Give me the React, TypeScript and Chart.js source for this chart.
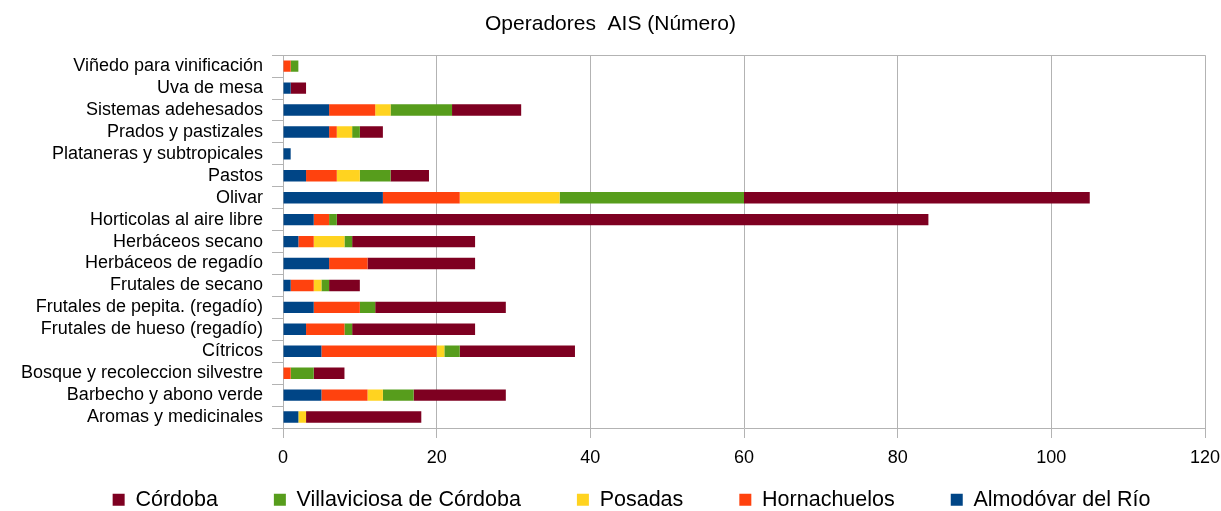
import React, { useEffect, useRef } from 'react';
import { Chart, registerables } from 'chart.js';

Chart.register(...registerables);

const categories = [
  'Viñedo para vinificación',
  'Uva de mesa',
  'Sistemas adehesados',
  'Prados y pastizales',
  'Plataneras y subtropicales',
  'Pastos',
  'Olivar',
  'Horticolas al aire libre',
  'Herbáceos secano',
  'Herbáceos de regadío',
  'Frutales de secano',
  'Frutales de pepita. (regadío)',
  'Frutales de hueso (regadío)',
  'Cítricos',
  'Bosque y recoleccion silvestre',
  'Barbecho y abono verde',
  'Aromas y medicinales',
];

const almodovar = [0, 1, 6, 6, 1, 3, 13, 4, 2, 6, 1, 4, 3, 5, 0, 5, 2];
const hornachuelos = [1, 0, 6, 1, 0, 4, 10, 2, 2, 5, 3, 6, 5, 15, 1, 6, 0];
const posadas = [0, 0, 2, 2, 0, 3, 13, 0, 4, 0, 1, 0, 0, 1, 0, 2, 1];
const villaviciosa = [1, 0, 8, 1, 0, 4, 24, 1, 1, 0, 1, 2, 1, 2, 3, 4, 0];
const cordoba = [0, 2, 9, 3, 0, 5, 45, 77, 16, 14, 4, 17, 16, 15, 4, 12, 15];

const xMin = 0;
const xMax = 120;
const xStep = 20;

const titleText = 'Operadores  AIS (Número)';

const colors = {
  almodovar: '#004586',
  hornachuelos: '#ff420e',
  posadas: '#ffd320',
  villaviciosa: '#579d1c',
  cordoba: '#7e0021',
};

const gridColor = '#b3b3b3';

export default function App() {
  const ref = useRef<HTMLCanvasElement>(null);

  useEffect(() => {
    if (!ref.current) return;
    Chart.defaults.font.family = "'Liberation Sans', Arial, sans-serif";
    Chart.defaults.color = '#000';

    const topLine = {
      id: 'topLine',
      afterDatasetsDraw(chart: any) {
        const { ctx, chartArea } = chart;
        ctx.save();
        ctx.strokeStyle = gridColor;
        ctx.lineWidth = 1;
        ctx.beginPath();
        ctx.moveTo(chartArea.left, Math.round(chartArea.top) + 0.5);
        ctx.lineTo(chartArea.right, Math.round(chartArea.top) + 0.5);
        ctx.stroke();
        ctx.restore();
      },
    };

    const legendPlace = {
      id: 'legendPlace',
      afterLayout(chart: any) {
        const lg = chart.legend;
        if (lg) {
          lg.left += 21;
          lg.right += 21;
          lg.top = 433;
          lg.bottom = 525;
          lg.height = 92;
        }
      },
    };

    const chart = new Chart(ref.current, {
      type: 'bar',
      data: {
        labels: categories,
        datasets: [
          { label: 'Almodóvar del Río', data: almodovar, backgroundColor: colors.almodovar },
          { label: 'Hornachuelos', data: hornachuelos, backgroundColor: colors.hornachuelos },
          { label: 'Posadas', data: posadas, backgroundColor: colors.posadas },
          { label: 'Villaviciosa de Córdoba', data: villaviciosa, backgroundColor: colors.villaviciosa },
          { label: 'Córdoba', data: cordoba, backgroundColor: colors.cordoba },
        ],
      },
      options: {
        indexAxis: 'y',
        responsive: true,
        maintainAspectRatio: false,
        animation: false,
        layout: { padding: { left: 0, right: 0, top: 0, bottom: 0 } },
        datasets: {
          bar: { barPercentage: 1, categoryPercentage: 0.52, borderWidth: 0 },
        },
        scales: {
          x: {
            stacked: true,
            min: xMin,
            max: xMax,
            ticks: { stepSize: xStep, font: { size: 18 }, color: '#000', padding: 9, maxRotation: 0 },
            grid: { color: gridColor, tickLength: 10, drawTicks: true },
            border: { color: gridColor },
            afterFit(scale: any) {
              scale.paddingRight = 16;
            },
          },
          y: {
            stacked: true,
            ticks: { font: { size: 18 }, color: '#000', padding: 9, autoSkip: false },
            grid: { color: gridColor, drawOnChartArea: false, tickLength: 11, offset: true },
            border: { color: gridColor },
            afterFit(scale: any) {
              scale.width = 283;
            },
          },
        },
        plugins: {
          title: {
            display: true,
            text: titleText,
            color: '#000',
            font: { size: 21, weight: 'normal' },
            padding: { top: 12, bottom: 18 },
          },
          legend: {
            position: 'bottom',
            reverse: true,
            maxHeight: 33.4,
            labels: {
              boxWidth: 12,
              boxHeight: 12,
              padding: 56,
              color: '#000',
              font: { size: 21.5 },
            },
          },
          tooltip: { enabled: false },
        },
      },
      plugins: [topLine, legendPlace],
    });

    return () => chart.destroy();
  }, []);

  return (
    <div style={{ position: 'fixed', left: 0, top: 0, width: 1221, height: 511, background: '#fff' }}>
      <canvas ref={ref} />
    </div>
  );
}
